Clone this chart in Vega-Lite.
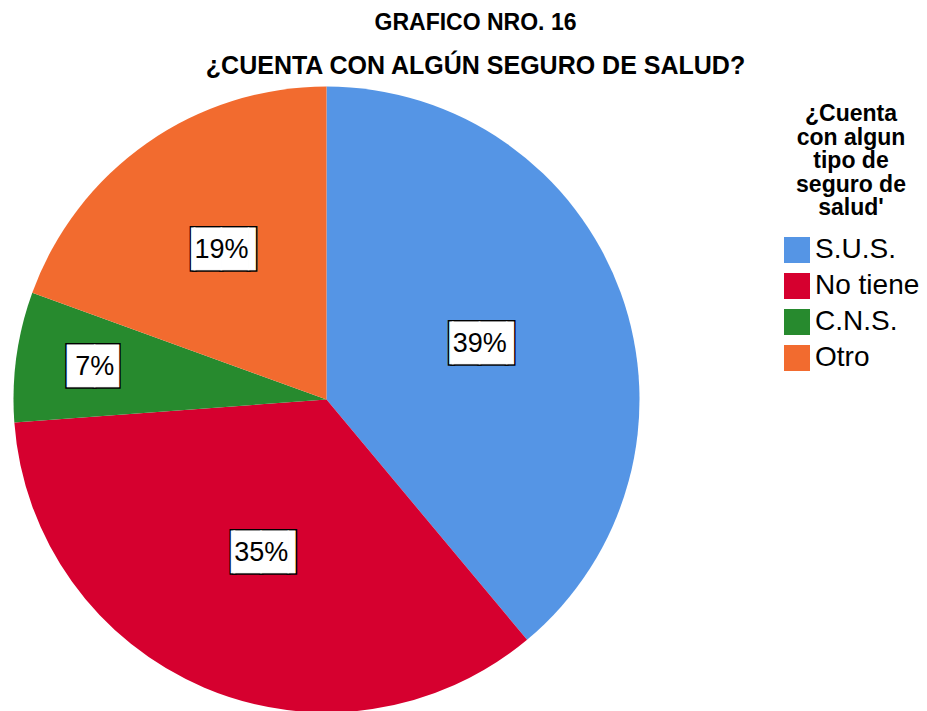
{
  "$schema": "https://vega.github.io/schema/vega-lite/v6.json",
  "autosize": "none",
  "width": 627,
  "height": 623,
  "padding": {"left": 13, "top": 88, "right": 287, "bottom": 0},
  "background": "#ffffff",
  "config": {
    "view": {"stroke": null},
    "font": "Liberation Sans",
    "legend": {
      "orient": "none",
      "legendX": 770,
      "legendY": 15,
      "titleFont": "Liberation Sans",
      "titleFontSize": 23,
      "titleFontWeight": "bold",
      "titleColor": "#000000",
      "titleLineHeight": 23.5,
      "titleAlign": "center",
      "titleAnchor": "middle",
      "titlePadding": 16,
      "labelFont": "Liberation Sans",
      "labelFontSize": 28,
      "labelColor": "#000000",
      "labelOffset": 4,
      "symbolType": "square",
      "symbolSize": 676,
      "symbolStrokeWidth": 0,
      "rowPadding": 8,
      "padding": 0
    }
  },
  "title": {
    "text": "GRAFICO NRO. 16",
    "subtitle": "¿CUENTA CON ALGÚN SEGURO DE SALUD?",
    "anchor": "middle",
    "frame": "group",
    "dx": 149,
    "font": "Liberation Sans",
    "fontSize": 23,
    "fontWeight": "bold",
    "color": "#000000",
    "subtitleFont": "Liberation Sans",
    "subtitleFontSize": 25,
    "subtitleFontWeight": "bold",
    "subtitleColor": "#000000",
    "subtitlePadding": 19,
    "offset": 8
  },
  "data": {
    "values": [
      {"categoria": "S.U.S.", "orden": 1, "pct": 0.3893},
      {"categoria": "No tiene", "orden": 2, "pct": 0.3490},
      {"categoria": "C.N.S.", "orden": 3, "pct": 0.0671},
      {"categoria": "Otro", "orden": 4, "pct": 0.1946}
    ]
  },
  "layer": [
    {
      "mark": {"type": "arc", "outerRadius": 313, "stroke": null},
      "encoding": {
        "theta": {"field": "pct", "type": "quantitative", "stack": true},
        "order": {"field": "orden", "type": "quantitative"},
        "color": {
          "field": "categoria",
          "type": "nominal",
          "scale": {
            "domain": ["S.U.S.", "No tiene", "C.N.S.", "Otro"],
            "range": ["#5595e5", "#d6002f", "#278a2e", "#f26b2f"]
          },
          "legend": {"title": ["¿Cuenta", "con algun", "tipo de", "seguro de", "salud'"]}
        }
      }
    },
    {
      "mark": {"type": "text", "font": "DejaVu Sans", "fontSize": 35, "fill": "#000000", "stroke": "#000000", "strokeWidth": 4, "align": "center", "baseline": "middle"},
      "encoding": {
        "theta": {"field": "pct", "type": "quantitative", "stack": true},
        "order": {"field": "orden", "type": "quantitative"},
        "detail": {"field": "categoria", "type": "nominal"},
        "radius": {"field": "pct", "type": "quantitative", "scale": {"type": "linear", "zero": false, "domain": [0.0671, 0.1946, 0.3893], "range": [234, 183, 163]}},
        "text": {"condition": {"test": "datum.pct < 0.1", "value": "█▉"}, "value": "▕██▎"}
      }
    },
    {
      "mark": {"type": "text", "font": "DejaVu Sans", "fontSize": 35, "fill": "#ffffff", "stroke": "#ffffff", "strokeWidth": 1, "align": "center", "baseline": "middle"},
      "encoding": {
        "theta": {"field": "pct", "type": "quantitative", "stack": true},
        "order": {"field": "orden", "type": "quantitative"},
        "detail": {"field": "categoria", "type": "nominal"},
        "radius": {"field": "pct", "type": "quantitative"},
        "text": {"condition": {"test": "datum.pct < 0.1", "value": "█▉"}, "value": "▕██▎"}
      }
    },
    {
      "mark": {"type": "text", "font": "Liberation Sans", "fontSize": 27, "fill": "#000000", "align": "center", "baseline": "middle"},
      "encoding": {
        "theta": {"field": "pct", "type": "quantitative", "stack": true},
        "order": {"field": "orden", "type": "quantitative"},
        "detail": {"field": "categoria", "type": "nominal"},
        "radius": {"field": "pct", "type": "quantitative"},
        "text": {"field": "pct", "type": "quantitative", "format": ".0%"}
      }
    }
  ]
}
